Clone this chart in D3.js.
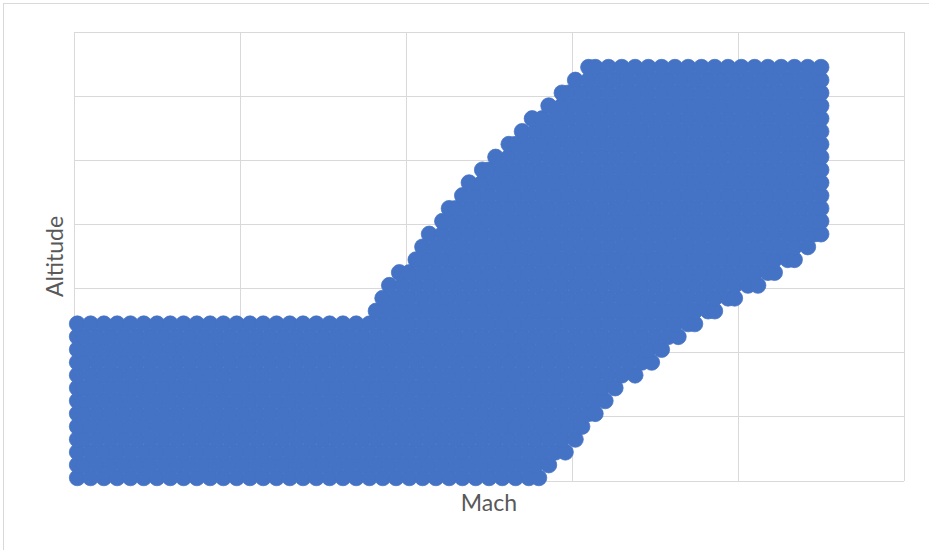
<!DOCTYPE html>
<html>
<head>
<meta charset="utf-8">
<script src="https://cdn.jsdelivr.net/npm/d3@7"></script>
<style>
	body { margin: 0; background: #fff; }
	text { font-family: Lato, "Open Sans", sans-serif; fill: #595959; }
</style>
</head>
<body>
<div id="chart"></div>
<script>
// DATA: flight envelope samples, one row of Mach values per altitude band (kft)
const altitudeRows = [0.5, 2.5, 4.5, 6.5, 8.5, 10.5, 12.5, 14.5, 16.5, 18.5, 20.5, 22.5, 24.5,
	26.5, 28.5, 30.5, 32.5, 34.5, 36.5, 38.5, 40.5, 42.5, 44.5, 46.5, 48.5, 50.5, 52.5, 54.5,
	56.5, 58.5, 60.5, 62.5, 64.5];

const machRows = [
	[0.01,0.05,0.09,0.13,0.17,0.21,0.25,0.29,0.33,0.37,0.41,0.45,0.49,0.53,0.57,0.61,0.65,0.69,0.73,0.77,0.81,0.85,0.89,0.93,0.97,1.01,1.05,1.09,1.13,1.17,1.21,1.25,1.29,1.33,1.37,1.40],
	[0.01,0.03,0.07,0.11,0.15,0.19,0.23,0.27,0.31,0.35,0.39,0.43,0.47,0.51,0.55,0.59,0.63,0.67,0.71,0.75,0.79,0.83,0.87,0.91,0.95,0.99,1.03,1.07,1.11,1.15,1.19,1.23,1.27,1.31,1.35,1.39,1.43],
	[0.01,0.05,0.09,0.13,0.17,0.21,0.25,0.29,0.33,0.37,0.41,0.45,0.49,0.53,0.57,0.61,0.65,0.69,0.73,0.77,0.81,0.85,0.89,0.93,0.97,1.01,1.05,1.09,1.13,1.17,1.21,1.25,1.29,1.33,1.37,1.41,1.45,1.48],
	[0.01,0.03,0.07,0.11,0.15,0.19,0.23,0.27,0.31,0.35,0.39,0.43,0.47,0.51,0.55,0.59,0.63,0.67,0.71,0.75,0.79,0.83,0.87,0.91,0.95,0.99,1.03,1.07,1.11,1.15,1.19,1.23,1.27,1.31,1.35,1.39,1.43,1.47,1.51],
	[0.01,0.05,0.09,0.13,0.17,0.21,0.25,0.29,0.33,0.37,0.41,0.45,0.49,0.53,0.57,0.61,0.65,0.69,0.73,0.77,0.81,0.85,0.89,0.93,0.97,1.01,1.05,1.09,1.13,1.17,1.21,1.25,1.29,1.33,1.37,1.41,1.45,1.49,1.53],
	[0.01,0.03,0.07,0.11,0.15,0.19,0.23,0.27,0.31,0.35,0.39,0.43,0.47,0.51,0.55,0.59,0.63,0.67,0.71,0.75,0.79,0.83,0.87,0.91,0.95,0.99,1.03,1.07,1.11,1.15,1.19,1.23,1.27,1.31,1.35,1.39,1.43,1.47,1.51,1.55,1.57],
	[0.01,0.05,0.09,0.13,0.17,0.21,0.25,0.29,0.33,0.37,0.41,0.45,0.49,0.53,0.57,0.61,0.65,0.69,0.73,0.77,0.81,0.85,0.89,0.93,0.97,1.01,1.05,1.09,1.13,1.17,1.21,1.25,1.29,1.33,1.37,1.41,1.45,1.49,1.53,1.57,1.60],
	[0.01,0.03,0.07,0.11,0.15,0.19,0.23,0.27,0.31,0.35,0.39,0.43,0.47,0.51,0.55,0.59,0.63,0.67,0.71,0.75,0.79,0.83,0.87,0.91,0.95,0.99,1.03,1.07,1.11,1.15,1.19,1.23,1.27,1.31,1.35,1.39,1.43,1.47,1.51,1.55,1.59,1.63],
	[0.01,0.05,0.09,0.13,0.17,0.21,0.25,0.29,0.33,0.37,0.41,0.45,0.49,0.53,0.57,0.61,0.65,0.69,0.73,0.77,0.81,0.85,0.89,0.93,0.97,1.01,1.05,1.09,1.13,1.17,1.21,1.25,1.29,1.33,1.37,1.41,1.45,1.49,1.53,1.57,1.61,1.65,1.69],
	[0.01,0.03,0.07,0.11,0.15,0.19,0.23,0.27,0.31,0.35,0.39,0.43,0.47,0.51,0.55,0.59,0.63,0.67,0.71,0.75,0.79,0.83,0.87,0.91,0.95,0.99,1.03,1.07,1.11,1.15,1.19,1.23,1.27,1.31,1.35,1.39,1.43,1.47,1.51,1.55,1.59,1.63,1.67,1.71,1.74],
	[0.01,0.05,0.09,0.13,0.17,0.21,0.25,0.29,0.33,0.37,0.41,0.45,0.49,0.53,0.57,0.61,0.65,0.69,0.73,0.77,0.81,0.85,0.89,0.93,0.97,1.01,1.05,1.09,1.13,1.17,1.21,1.25,1.29,1.33,1.37,1.41,1.45,1.49,1.53,1.57,1.61,1.65,1.69,1.73,1.77],
	[0.01,0.03,0.07,0.11,0.15,0.19,0.23,0.27,0.31,0.35,0.39,0.43,0.47,0.51,0.55,0.59,0.63,0.67,0.71,0.75,0.79,0.83,0.87,0.91,0.95,0.99,1.03,1.07,1.11,1.15,1.19,1.23,1.27,1.31,1.35,1.39,1.43,1.47,1.51,1.55,1.59,1.63,1.67,1.71,1.75,1.79,1.82],
	[0.01,0.05,0.09,0.13,0.17,0.21,0.25,0.29,0.33,0.37,0.41,0.45,0.49,0.53,0.57,0.61,0.65,0.69,0.73,0.77,0.81,0.85,0.89,0.93,0.97,1.01,1.05,1.09,1.13,1.17,1.21,1.25,1.29,1.33,1.37,1.41,1.45,1.49,1.53,1.57,1.61,1.65,1.69,1.73,1.77,1.81,1.85,1.87],
	[0.91,0.95,0.99,1.03,1.07,1.11,1.15,1.19,1.23,1.27,1.31,1.35,1.39,1.43,1.47,1.51,1.55,1.59,1.63,1.67,1.71,1.75,1.79,1.83,1.87,1.91,1.93],
	[0.93,0.97,1.01,1.05,1.09,1.13,1.17,1.21,1.25,1.29,1.33,1.37,1.41,1.45,1.49,1.53,1.57,1.61,1.65,1.69,1.73,1.77,1.81,1.85,1.89,1.93,1.97,1.99],
	[0.95,0.99,1.03,1.07,1.11,1.15,1.19,1.23,1.27,1.31,1.35,1.39,1.43,1.47,1.51,1.55,1.59,1.63,1.67,1.71,1.75,1.79,1.83,1.87,1.91,1.95,1.99,2.03,2.06],
	[0.98,1.01,1.05,1.09,1.13,1.17,1.21,1.25,1.29,1.33,1.37,1.41,1.45,1.49,1.53,1.57,1.61,1.65,1.69,1.73,1.77,1.81,1.85,1.89,1.93,1.97,2.01,2.05,2.09,2.11],
	[1.03,1.07,1.11,1.15,1.19,1.23,1.27,1.31,1.35,1.39,1.43,1.47,1.51,1.55,1.59,1.63,1.67,1.71,1.75,1.79,1.83,1.87,1.91,1.95,1.99,2.03,2.07,2.11,2.15,2.17],
	[1.05,1.09,1.13,1.17,1.21,1.25,1.29,1.33,1.37,1.41,1.45,1.49,1.53,1.57,1.61,1.65,1.69,1.73,1.77,1.81,1.85,1.89,1.93,1.97,2.01,2.05,2.09,2.13,2.17,2.21],
	[1.07,1.11,1.15,1.19,1.23,1.27,1.31,1.35,1.39,1.43,1.47,1.51,1.55,1.59,1.63,1.67,1.71,1.75,1.79,1.83,1.87,1.91,1.95,1.99,2.03,2.07,2.11,2.15,2.19,2.23,2.25],
	[1.11,1.13,1.17,1.21,1.25,1.29,1.33,1.37,1.41,1.45,1.49,1.53,1.57,1.61,1.65,1.69,1.73,1.77,1.81,1.85,1.89,1.93,1.97,2.01,2.05,2.09,2.13,2.17,2.21,2.25],
	[1.13,1.15,1.19,1.23,1.27,1.31,1.35,1.39,1.43,1.47,1.51,1.55,1.59,1.63,1.67,1.71,1.75,1.79,1.83,1.87,1.91,1.95,1.99,2.03,2.07,2.11,2.15,2.19,2.23,2.25],
	[1.17,1.21,1.25,1.29,1.33,1.37,1.41,1.45,1.49,1.53,1.57,1.61,1.65,1.69,1.73,1.77,1.81,1.85,1.89,1.93,1.97,2.01,2.05,2.09,2.13,2.17,2.21,2.25],
	[1.19,1.23,1.27,1.31,1.35,1.39,1.43,1.47,1.51,1.55,1.59,1.63,1.67,1.71,1.75,1.79,1.83,1.87,1.91,1.95,1.99,2.03,2.07,2.11,2.15,2.19,2.23,2.25],
	[1.23,1.25,1.29,1.33,1.37,1.41,1.45,1.49,1.53,1.57,1.61,1.65,1.69,1.73,1.77,1.81,1.85,1.89,1.93,1.97,2.01,2.05,2.09,2.13,2.17,2.21,2.25],
	[1.27,1.31,1.35,1.39,1.43,1.47,1.51,1.55,1.59,1.63,1.67,1.71,1.75,1.79,1.83,1.87,1.91,1.95,1.99,2.03,2.07,2.11,2.15,2.19,2.23,2.25],
	[1.31,1.33,1.37,1.41,1.45,1.49,1.53,1.57,1.61,1.65,1.69,1.73,1.77,1.81,1.85,1.89,1.93,1.97,2.01,2.05,2.09,2.13,2.17,2.21,2.25],
	[1.35,1.39,1.43,1.47,1.51,1.55,1.59,1.63,1.67,1.71,1.75,1.79,1.83,1.87,1.91,1.95,1.99,2.03,2.07,2.11,2.15,2.19,2.23,2.25],
	[1.38,1.41,1.45,1.49,1.53,1.57,1.61,1.65,1.69,1.73,1.77,1.81,1.85,1.89,1.93,1.97,2.01,2.05,2.09,2.13,2.17,2.21,2.25],
	[1.43,1.47,1.51,1.55,1.59,1.63,1.67,1.71,1.75,1.79,1.83,1.87,1.91,1.95,1.99,2.03,2.07,2.11,2.15,2.19,2.23,2.25],
	[1.47,1.49,1.53,1.57,1.61,1.65,1.69,1.73,1.77,1.81,1.85,1.89,1.93,1.97,2.01,2.05,2.09,2.13,2.17,2.21,2.25],
	[1.51,1.55,1.59,1.63,1.67,1.71,1.75,1.79,1.83,1.87,1.91,1.95,1.99,2.03,2.07,2.11,2.15,2.19,2.23,2.25],
	[1.55,1.57,1.61,1.65,1.69,1.73,1.77,1.81,1.85,1.89,1.93,1.97,2.01,2.05,2.09,2.13,2.17,2.21,2.25]
];

// gridline positions (axes carry no tick labels)
const machTicks = [0, 0.5, 1, 1.5, 2, 2.5];
const altitudeTicks = [0, 10, 20, 30, 40, 50, 60, 70];


// SVG DIMENSIONS
const width = 929;
const height = 550;
const margin = { top: 32, right: 25, bottom: 69, left: 74 };

const svg = d3.select("#chart")
	.append("svg")
	.attr("width", width)
	.attr("height", height);

// chart frame
svg.append("rect")
	.attr("x", 3.5)
	.attr("y", 3.5)
	.attr("width", width + 10)
	.attr("height", height + 10)
	.attr("fill", "none")
	.attr("stroke", "#d9d9d9");


// SCALES
const x = d3.scaleLinear()
	.domain([0, 2.5])
	.range([margin.left, width - margin.right]);
const y = d3.scaleLinear()
	.domain([0, 70])
	.range([height - margin.bottom, margin.top]);


// GRID
const grid = svg.append("g")
	.attr("stroke", "#d9d9d9")
	.attr("stroke-width", 1)
	.attr("shape-rendering", "crispEdges");
grid.selectAll("line.v")
	.data(machTicks)
	.enter()
	.append("line")
		.attr("class", "v")
		.attr("x1", d => x(d)).attr("x2", d => x(d))
		.attr("y1", y(0)).attr("y2", y(70));
grid.selectAll("line.h")
	.data(altitudeTicks)
	.enter()
	.append("line")
		.attr("class", "h")
		.attr("x1", x(0)).attr("x2", x(2.5))
		.attr("y1", d => y(d)).attr("y2", d => y(d));


// POINTS
const points = machRows.flatMap((row, i) => row.map(m => ({ mach: m, altitude: altitudeRows[i] })));

svg.append("g")
	.selectAll("circle")
	.data(points)
	.enter()
	.append("circle")
		.attr("cx", d => x(d.mach))
		.attr("cy", d => y(d.altitude))
		.attr("r", 8)
		.attr("fill", "#4472c4")
		.attr("stroke", "#4472c4")
		.attr("stroke-width", 0.75);


// AXIS TITLES
svg.append("text")
	.attr("x", (x(0) + x(2.5)) / 2)
	.attr("y", 511)
	.attr("text-anchor", "middle")
	.style("font-size", "23px")
	.text("Mach");

svg.append("text")
	.attr("transform", `translate(63, ${(y(0) + y(70)) / 2}) rotate(-90)`)
	.attr("text-anchor", "middle")
	.style("font-size", "23px")
	.text("Altitude");
</script>
</body>
</html>
